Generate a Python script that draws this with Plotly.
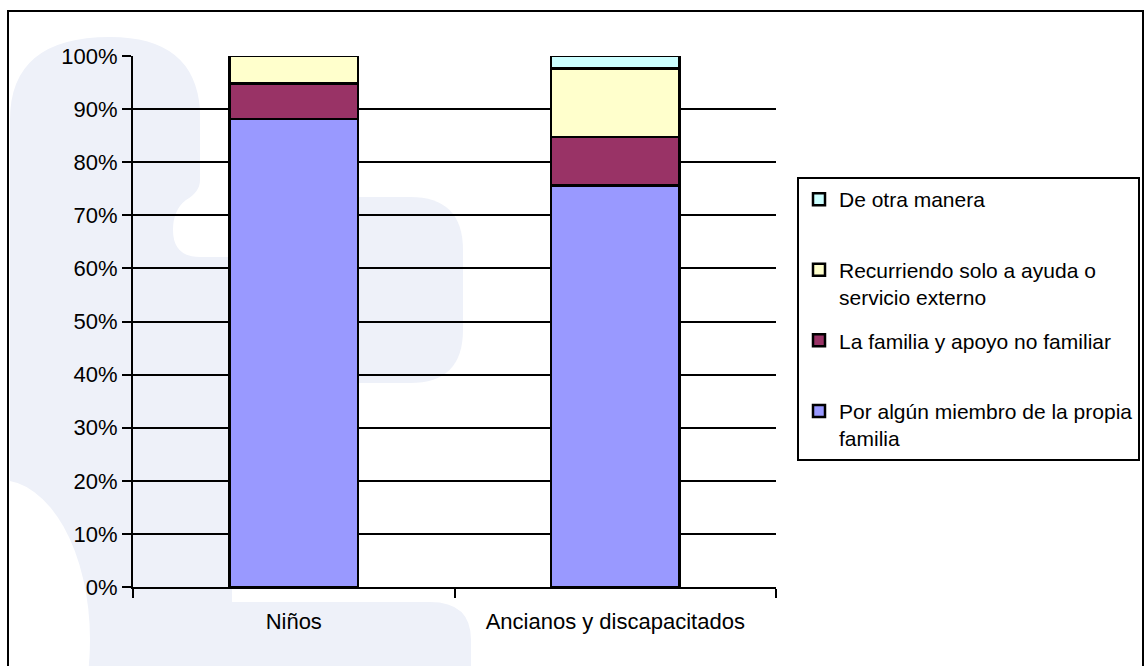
import plotly.graph_objects as go

categories = ["Niños", "Ancianos y discapacitados"]
series_names = [
    "Por algún miembro de la propia<br>familia",
    "La familia y apoyo no familiar<br> ",
    "Recurriendo solo a ayuda o<br>servicio externo",
    "De otra manera<br> ",
]
familia = [88.1, 75.6]
familia_apoyo = [6.7, 9.1]
externo = [5.2, 12.9]
otra = [0.0, 2.4]
colors = ["#9999FF", "#993366", "#FFFFCC", "#CCFFFF"]
ranks = [4, 3, 2, 1]

W, H = 1146, 666
L, R, T, B = 133, 370, 56, 79
pw, ph = W - L - R, H - T - B


def px(x, y):
    return (x - L) / pw, (H - B - y) / ph


def path(cmds):
    out = []
    for c in cmds:
        op, pts = c[0], c[1:]
        coords = []
        for i in range(0, len(pts), 2):
            a, b = px(pts[i], pts[i + 1])
            coords.append(f"{a:.4f},{b:.4f}")
        out.append(op + " " + " ".join(coords))
    return " ".join(out) + " Z"


fig = go.Figure()
for name, vals, col, rk in zip(series_names, [familia, familia_apoyo, externo, otra], colors, ranks):
    fig.add_trace(go.Bar(
        x=categories, y=vals, name=name, legendgroup=name, legendrank=rk,
        marker=dict(color=col, line=dict(color="black", width=2.5)),
    ))

# light watermark in the background
wm = "#EEF1F9"
blob = path([
    ("M", 10, 680), ("L", 10, 120), ("Q", 10, 37, 110, 37), ("Q", 195, 37, 200, 110),
    ("L", 200, 180), ("Q", 200, 192, 186, 200), ("Q", 173, 210, 173, 230),
    ("Q", 173, 257, 200, 257), ("L", 232, 257), ("L", 232, 602), ("L", 430, 602),
    ("Q", 471, 602, 471, 640), ("L", 471, 680),
])
blob2 = path([
    ("M", 357, 197), ("L", 410, 197), ("Q", 463, 197, 463, 250), ("L", 463, 330),
    ("Q", 463, 383, 410, 383), ("L", 357, 383),
])
x0, y0 = px(-90, 800)
x1, y1 = px(90, 480)
shapes = [
    dict(type="path", path=blob, xref="paper", yref="paper", fillcolor=wm, line_width=0, layer="below"),
    dict(type="path", path=blob2, xref="paper", yref="paper", fillcolor=wm, line_width=0, layer="below"),
    dict(type="circle", x0=x0, y0=y0, x1=x1, y1=y1, xref="paper", yref="paper",
         fillcolor="white", line_width=0, layer="below"),
]
bx0, by0 = px(8, 680)
bx1, by1 = px(1143, 11)
shapes.append(dict(type="rect", x0=bx0, y0=by0, x1=bx1, y1=by1, xref="paper", yref="paper",
                   line=dict(color="black", width=2), fillcolor="rgba(0,0,0,0)", layer="above"))

lx, ly = px(797, 177)
family = "Liberation Sans Narrow, Arial Narrow, Liberation Sans, Arial, sans-serif"
tick_font = dict(family=family, size=22, color="black")
legend_font = dict(family=family, size=21, color="black")

fig.update_layout(
    barmode="stack",
    bargap=0.6,
    width=W, height=H,
    margin=dict(l=L, r=R, t=T, b=B, autoexpand=False),
    paper_bgcolor="white",
    plot_bgcolor="rgba(0,0,0,0)",
    font=tick_font,
    shapes=shapes,
    showlegend=True,
    legend=dict(
        x=lx, y=ly, xanchor="left", yanchor="top",
        traceorder="grouped", tracegroupgap=13, valign="top",
        bordercolor="black", borderwidth=2, bgcolor="white", font=legend_font,
    ),
    xaxis=dict(
        showline=True, linecolor="black", linewidth=2,
        ticks="outside", ticklen=9, tickwidth=2, tickcolor="black",
        tickson="boundaries", ticklabelstandoff=14, showgrid=False,
    ),
    yaxis=dict(
        range=[0, 100], dtick=10, ticksuffix="%",
        showline=True, linecolor="black", linewidth=2,
        ticks="outside", ticklen=9, tickwidth=2, tickcolor="black",
        showgrid=True, gridcolor="black", gridwidth=2, zeroline=False,
    ),
)

fig.write_html("out.html", config={"displayModeBar": False},
               post_script="document.body.style.margin='0px';")
